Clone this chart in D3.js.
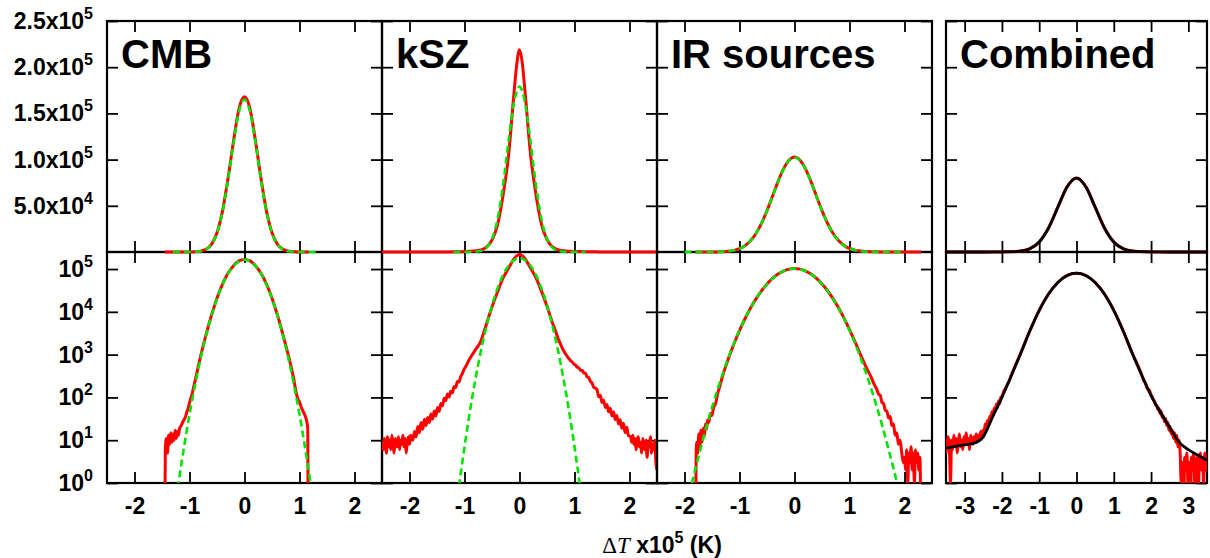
<!DOCTYPE html>
<html>
<head>
<meta charset="utf-8">
<script src="https://cdn.jsdelivr.net/npm/d3@7"></script>
<style>
  body { margin: 0; background: #fff; }
  svg text { font-family: "Liberation Sans", Arial, sans-serif; font-weight: bold; fill: #000; }
</style>
</head>
<body>
<svg width="1210" height="558"></svg>
<script>
// panel names and x ranges (units of 1e-5 K)
var panelNames = ['CMB', 'kSZ', 'IR sources', 'Combined']
var panelDomains = [[-2.5, 2.5], [-2.5, 2.5], [-2.5, 2.5], [-3.5, 3.5]]
var panelTicks = [[-2, -1, 0, 1, 2], [-2, -1, 0, 1, 2], [-2, -1, 0, 1, 2], [-3, -2, -1, 0, 1, 2, 3]]

// y tick labels
var linTicks = [5e4, 1e5, 1.5e5, 2e5, 2.5e5]
var linMant = ['5.0', '1.0', '1.5', '2.0', '2.5']
var linExp = ['4', '5', '5', '5', '5']
var logTicks = [1, 10, 100, 1e3, 1e4, 1e5]
var logExp = ['0', '1', '2', '3', '4', '5']

// [dT, counts]
var cmbHist = [[-1.45,0],[-1.44,6],[-1.42,11],[-1.40,5],[-1.38,13],[-1.36,8],[-1.34,15],[-1.32,9],[-1.30,14],[-1.28,10],[-1.26,17],[-1.24,11],[-1.22,16],[-1.20,13],[-1.18,19],[-1.15,22],[-1.12,27],[-1.10,30],[-1.07,36],[-1.05,45],[-1.02,58],[-1.00,75],[-0.95,125],[-0.90,240],[-0.80,900],[-0.70,2900],[-0.60,8300],[-0.50,20800],[-0.40,44200],[-0.30,79500],[-0.20,120000],[-0.10,155000],[0,168000],[0.10,155000],[0.20,120000],[0.30,79500],[0.40,44200],[0.50,20800],[0.60,8300],[0.70,2900],[0.80,930],[0.90,250],[0.93,150],[0.96,100],[1.00,78],[1.03,60],[1.07,46],[1.11,35],[1.13,28],[1.15,19],[1.16,0]]
var cmbFit = [[-1.3,0.13],[-1.2,1.0],[-1.1,6.9],[-1.0,40],[-0.9,193],[-0.8,800],[-0.7,2780],[-0.6,8200],[-0.5,20500],[-0.4,43500],[-0.3,78000],[-0.2,118000],[-0.1,152000],[0,165000],[0.1,152000],[0.2,118000],[0.3,78000],[0.4,43500],[0.5,20500],[0.6,8200],[0.7,2780],[0.8,800],[0.9,193],[1.0,40],[1.1,6.9],[1.2,1.0],[1.3,0.13]]

var kszHist = [[-2.50,9],[-2.48,6],[-2.46,11],[-2.44,8],[-2.42,5],[-2.40,12],[-2.38,7],[-2.36,10],[-2.34,6],[-2.32,13],[-2.30,8],[-2.28,5],[-2.26,11],[-2.24,9],[-2.22,7],[-2.20,12],[-2.18,6],[-2.16,10],[-2.14,8],[-2.12,13],[-2.10,7],[-2.08,11],[-2.06,5],[-2.04,9],[-2.02,12],[-2.00,8],[-1.98,13],[-1.96,11],
  [-1.94,10],[-1.91,16],[-1.88,12],[-1.85,21],[-1.82,15],[-1.79,26],[-1.76,18],[-1.73,31],[-1.70,22],[-1.67,34],[-1.64,26],[-1.61,41],[-1.58,31],[-1.55,48],[-1.52,37],[-1.49,58],[-1.46,47],[-1.43,72],[-1.40,64],[-1.37,96],[-1.34,84],[-1.31,120],[-1.28,102],[-1.25,140],[-1.22,128],[-1.19,180],[-1.16,170],[-1.13,235],[-1.10,230],[-1.07,305],[-1.04,360],[-1.01,450],[-0.98,520],[-0.95,620],[-0.92,740],[-0.89,860],
  [-0.80,1300],[-0.70,2100],[-0.65,3300],[-0.60,5200],[-0.50,13000],[-0.40,29000],[-0.30,61000],[-0.20,104000],[-0.10,172000],[-0.05,203000],[0,219000],
  [0.05,205000],[0.10,174000],[0.20,106000],[0.30,62000],[0.40,30000],[0.50,13500],[0.60,5500],[0.65,3700],[0.70,2400],[0.75,1700],[0.80,1250],[0.85,980],
  [0.90,800],[0.93,720],[0.96,670],[0.99,600],[1.02,570],[1.05,505],[1.08,490],[1.11,430],[1.14,425],[1.17,375],[1.20,365],[1.23,300],[1.26,290],[1.29,235],[1.32,215],[1.35,172],[1.38,165],[1.41,150],[1.44,104],[1.47,112],[1.50,76],[1.53,86],[1.56,58],[1.59,68],[1.62,46],[1.65,56],[1.68,37],[1.71,46],[1.74,30],[1.77,38],[1.80,24],[1.83,30],[1.86,19],[1.89,25],[1.92,15],[1.95,20],[1.98,13],
  [2.02,12],[2.04,9],[2.06,13],[2.08,8],[2.10,11],[2.12,6],[2.14,10],[2.16,12],[2.18,7],[2.20,9],[2.22,5],[2.24,11],[2.26,8],[2.28,6],[2.30,10],[2.32,4],[2.34,9],[2.36,7],[2.38,12],[2.40,5],[2.42,8],[2.44,6],[2.46,10],[2.48,3],[2.50,2]]
var kszFit = [[-1.2,0.08],[-1.1,0.84],[-1.0,7.0],[-0.9,48.5],[-0.8,272],[-0.7,1244],[-0.6,4650],[-0.5,14190],[-0.4,35300],[-0.3,71850],[-0.2,119300],[-0.1,161700],[0,179000],[0.1,161700],[0.2,119300],[0.3,71850],[0.4,35300],[0.5,14190],[0.6,4650],[0.7,1244],[0.8,272],[0.9,48.5],[1.0,7.0],[1.1,0.84],[1.2,0.08]]

var irHist = [[-1.80,0],[-1.79,3],[-1.78,9],[-1.76,5],[-1.74,14],[-1.72,7],[-1.70,17],[-1.68,9],[-1.66,19],[-1.64,12],[-1.62,24],[-1.60,18],[-1.58,30],[-1.56,26],[-1.53,42],[-1.50,38],[-1.47,60],[-1.44,68],[-1.40,118],[-1.35,200],[-1.30,340],[-1.20,820],[-1.10,1800],[-1.00,3650],[-0.90,6900],[-0.80,12200],[-0.70,20100],[-0.60,31000],[-0.50,44800],[-0.40,60300],[-0.30,76200],[-0.20,89900],[-0.10,99300],[0,102800],
  [0.10,99300],[0.20,89900],[0.30,76200],[0.40,60300],[0.50,44800],[0.60,31100],[0.70,20300],[0.80,12400],[0.90,7100],[1.00,3850],[1.10,2000],[1.20,1000],[1.30,520],[1.40,285],[1.45,200],[1.50,150],[1.53,118],[1.56,112],[1.59,76],[1.62,72],[1.65,50],[1.68,48],[1.71,33],[1.74,36],[1.77,22],[1.80,24],[1.83,13],[1.86,15],[1.89,8],[1.92,10],[1.95,5],[1.98,3],
  [2.00,4],[2.02,2],[2.04,6],[2.06,1],[2.08,5],[2.10,3],[2.12,7],[2.14,2],[2.16,5],[2.18,1],[2.20,6],[2.22,3],[2.24,5],[2.26,2],[2.28,4],[2.30,0]]
var irFit = [[-2.0,0.17],[-1.9,0.64],[-1.8,2.2],[-1.7,6.9],[-1.6,20.8],[-1.5,58],[-1.4,152],[-1.3,374],[-1.2,858],[-1.1,1840],[-1.0,3700],[-0.9,6950],[-0.8,12230],[-0.7,20100],[-0.6,31000],[-0.5,44700],[-0.4,60200],[-0.3,76000],[-0.2,89700],[-0.1,99100],[0,102500],
  [0.1,99100],[0.2,89700],[0.3,76000],[0.4,60200],[0.5,44700],[0.6,31000],[0.7,20100],[0.8,12230],[0.9,6950],[1.0,3700],[1.1,1840],[1.2,858],[1.3,374],[1.4,152],[1.5,58],[1.6,20.8],[1.7,6.9],[1.8,2.2],[1.9,0.64],[2.0,0.17]]

var combHist = [[-3.50,5],[-3.47,9],[-3.44,12],[-3.41,7],[-3.38,1],[-3.35,10],[-3.32,6],[-3.29,13],[-3.26,8],[-3.23,11],[-3.20,5],[-3.17,9],[-3.14,14],[-3.11,7],[-3.08,10],[-3.05,6],[-3.02,12],[-2.99,8],[-2.96,15],[-2.93,9],[-2.90,11],[-2.87,6],[-2.84,13],[-2.81,10],[-2.78,8],[-2.75,12],[-2.72,9],[-2.69,14],[-2.66,10],[-2.63,13],[-2.60,11],[-2.57,16],[-2.54,12],[-2.51,17],[-2.48,14],
  [-2.45,24],[-2.42,17],[-2.39,29],[-2.36,23],[-2.33,36],[-2.30,28],[-2.27,46],[-2.24,37],[-2.21,56],[-2.18,47],[-2.15,70],[-2.12,58],[-2.09,84],[-2.06,72],[-2.03,100],[-2.00,105],[-1.95,140],[-1.90,165],[-1.85,205],[-1.80,245],
  [-1.75,325],[-1.50,1060],[-1.25,3620],[-1.00,10850],[-0.75,26100],[-0.50,48600],[-0.25,70800],[0,80200],[0.25,70700],[0.50,48600],[0.75,26050],[1.00,10820],[1.25,3610],[1.50,1060],[1.75,335],
  [1.80,250],[1.85,215],[1.90,160],[1.95,150],[2.00,115],[2.03,104],[2.06,88],[2.09,82],[2.12,66],[2.15,66],[2.18,52],[2.21,56],[2.24,42],[2.27,48],[2.30,34],[2.33,37],[2.36,27],[2.39,32],[2.42,22],[2.45,26],[2.48,17],[2.51,21],[2.54,14],[2.57,17],[2.60,11],[2.63,15],[2.66,9],[2.69,13],[2.72,7],[2.75,10],[2.78,5],[2.81,1],[2.84,3],[2.87,0],[2.90,4],[2.93,2],[2.96,5],[2.99,1],[3.02,3],[3.05,0],[3.08,4],[3.11,2],[3.14,5],[3.17,1],[3.20,3],[3.23,4],[3.26,0],[3.29,3],[3.32,5],[3.35,2],[3.38,4],[3.41,1],[3.44,5],[3.47,2],[3.50,4]]
var combModel = [[-3.5,6.5],[-3.25,7.2],[-3.0,7.8],[-2.75,8.5],[-2.5,12],[-2.25,35],[-2.0,100],[-1.75,320],[-1.5,1050],[-1.25,3600],[-1.0,10800],[-0.75,26000],[-0.5,48500],[-0.25,70600],[0,80000],[0.25,70600],[0.5,48500],[0.75,26000],[1.0,10800],[1.25,3600],[1.5,1050],[1.75,330],[2.0,110],[2.25,45],[2.5,20],[2.75,9],[3.0,6],[3.25,4.5],[3.5,3.4]]

var hists = [cmbHist, kszHist, irHist, combHist]
var fits = [cmbFit, kszFit, irFit, combModel]

var red = '#ff0000'
var green = '#00e400'

var svg = d3.select('svg')

// layout
var cellLeft = [107, 382, 657, 946]
var cellRight = [382, 657, 932, 1207]
var topY = 21, midY = 252, botY = 483

var yLin = d3.scaleLinear().domain([0, 2.5e5]).range([midY, topY])
var yLog = d3.scaleLog().domain([1, 2.5e5]).range([botY, midY])

var defs = svg.append('defs')

var tickLen = 11

function ticks(g, axis, tx, ty) {
  g.append('g')
    .attr('transform', 'translate(' + tx + ',' + ty + ')')
    .call(axis)
    .call(s => s.select('.domain').remove())
    .call(s => s.selectAll('line').attr('stroke', '#000').attr('stroke-width', 1.8))
    .call(s => s.selectAll('text').remove())
}

panelNames.forEach((name, i) => {
  var x = d3.scaleLinear().domain(panelDomains[i]).range([cellLeft[i], cellRight[i]])
  var w = cellRight[i] - cellLeft[i]
  var g = svg.append('g')

  // frames
  g.append('rect').attr('x', cellLeft[i]).attr('y', topY).attr('width', w).attr('height', midY - topY)
    .attr('fill', 'none').attr('stroke', '#000').attr('stroke-width', 2.2)
  g.append('rect').attr('x', cellLeft[i]).attr('y', midY).attr('width', w).attr('height', botY - midY)
    .attr('fill', 'none').attr('stroke', '#000').attr('stroke-width', 2.2)

  // inward ticks on all sides
  var xt = panelTicks[i]
  ticks(g, d3.axisBottom(x).tickValues(xt).tickSize(tickLen), 0, topY)
  ticks(g, d3.axisTop(x).tickValues(xt).tickSize(tickLen), 0, midY)
  ticks(g, d3.axisBottom(x).tickValues(xt).tickSize(tickLen), 0, midY)
  ticks(g, d3.axisTop(x).tickValues(xt).tickSize(tickLen), 0, botY)
  ticks(g, d3.axisRight(yLin).tickValues(linTicks).tickSize(tickLen), cellLeft[i], 0)
  ticks(g, d3.axisLeft(yLin).tickValues(linTicks).tickSize(tickLen), cellRight[i], 0)
  ticks(g, d3.axisRight(yLog).tickValues(logTicks).tickSize(tickLen), cellLeft[i], 0)
  ticks(g, d3.axisLeft(yLog).tickValues(logTicks).tickSize(tickLen), cellRight[i], 0)

  // x labels
  g.append('g')
    .attr('transform', 'translate(0,' + botY + ')')
    .call(d3.axisBottom(x).tickValues(xt).tickSize(0).tickPadding(15).tickFormat(d => d))
    .call(s => s.select('.domain').remove())
    .attr('font-family', null).attr('font-size', null)
    .selectAll('text').style('font-size', '23px')

  // clip regions
  defs.append('clipPath').attr('id', 'ct' + i).append('rect')
    .attr('x', cellLeft[i]).attr('y', topY).attr('width', w).attr('height', midY - topY + 3)
  defs.append('clipPath').attr('id', 'cb' + i).append('rect')
    .attr('x', cellLeft[i]).attr('y', midY).attr('width', w).attr('height', botY - midY)

  var lineLin = d3.line().x(d => x(d[0])).y(d => yLin(d[1])).curve(d3.curveMonotoneX)
  var lineLog = d3.line().x(d => x(d[0])).y(d => yLog(Math.max(d[1], 0.05))).curve(d3.curveMonotoneX)

  var isComb = i === 3
  var fitStyle = p => p.attr('fill', 'none')
    .attr('stroke', isComb ? '#000' : green)
    .attr('stroke-width', isComb ? 2.8 : 2.6)
    .attr('stroke-dasharray', isComb ? null : '7,4')

  var top = svg.append('g').attr('clip-path', 'url(#ct' + i + ')')
  top.append('path').attr('d', lineLin(hists[i])).attr('fill', 'none').attr('stroke', red).attr('stroke-width', 3)
  top.append('path').attr('d', lineLin(fits[i])).call(fitStyle)

  var bot = svg.append('g').attr('clip-path', 'url(#cb' + i + ')')
  bot.append('path').attr('d', lineLog(hists[i])).attr('fill', 'none').attr('stroke', red).attr('stroke-width', 3)
  bot.append('path').attr('d', lineLog(fits[i])).call(fitStyle)

  // panel name
  svg.append('text').attr('x', cellLeft[i] + 14).attr('y', 68)
    .style('font-size', '40px').text(name)
})

// y labels, left panel only
var ylab = svg.append('g')
linTicks.forEach((v, k) => {
  var t = ylab.append('text').attr('x', 93).attr('y', yLin(v) + 8).attr('text-anchor', 'end').style('font-size', '23px')
  t.append('tspan').text(linMant[k] + 'x10')
  t.append('tspan').attr('dy', -10).style('font-size', '16px').text(linExp[k])
})
logTicks.forEach((v, k) => {
  var t = ylab.append('text').attr('x', 93).attr('y', yLog(v) + 8).attr('text-anchor', 'end').style('font-size', '23px')
  t.append('tspan').text('10')
  t.append('tspan').attr('dy', -10).style('font-size', '16px').text(logExp[k])
})

// x title
var title = svg.append('text').attr('x', 662).attr('y', 553).attr('text-anchor', 'middle').style('font-size', '23px')
title.append('tspan').style('font-family', '"Liberation Serif", "DejaVu Serif", serif').style('font-weight', 'normal').text('\u0394')
title.append('tspan').style('font-family', '"Liberation Serif", "DejaVu Serif", serif').style('font-weight', 'normal').style('font-style', 'italic').text('T')
title.append('tspan').text(' x10')
title.append('tspan').attr('dy', -10).style('font-size', '16px').text('5')
title.append('tspan').attr('dy', 10).text(' (K)')
</script>
</body>
</html>
